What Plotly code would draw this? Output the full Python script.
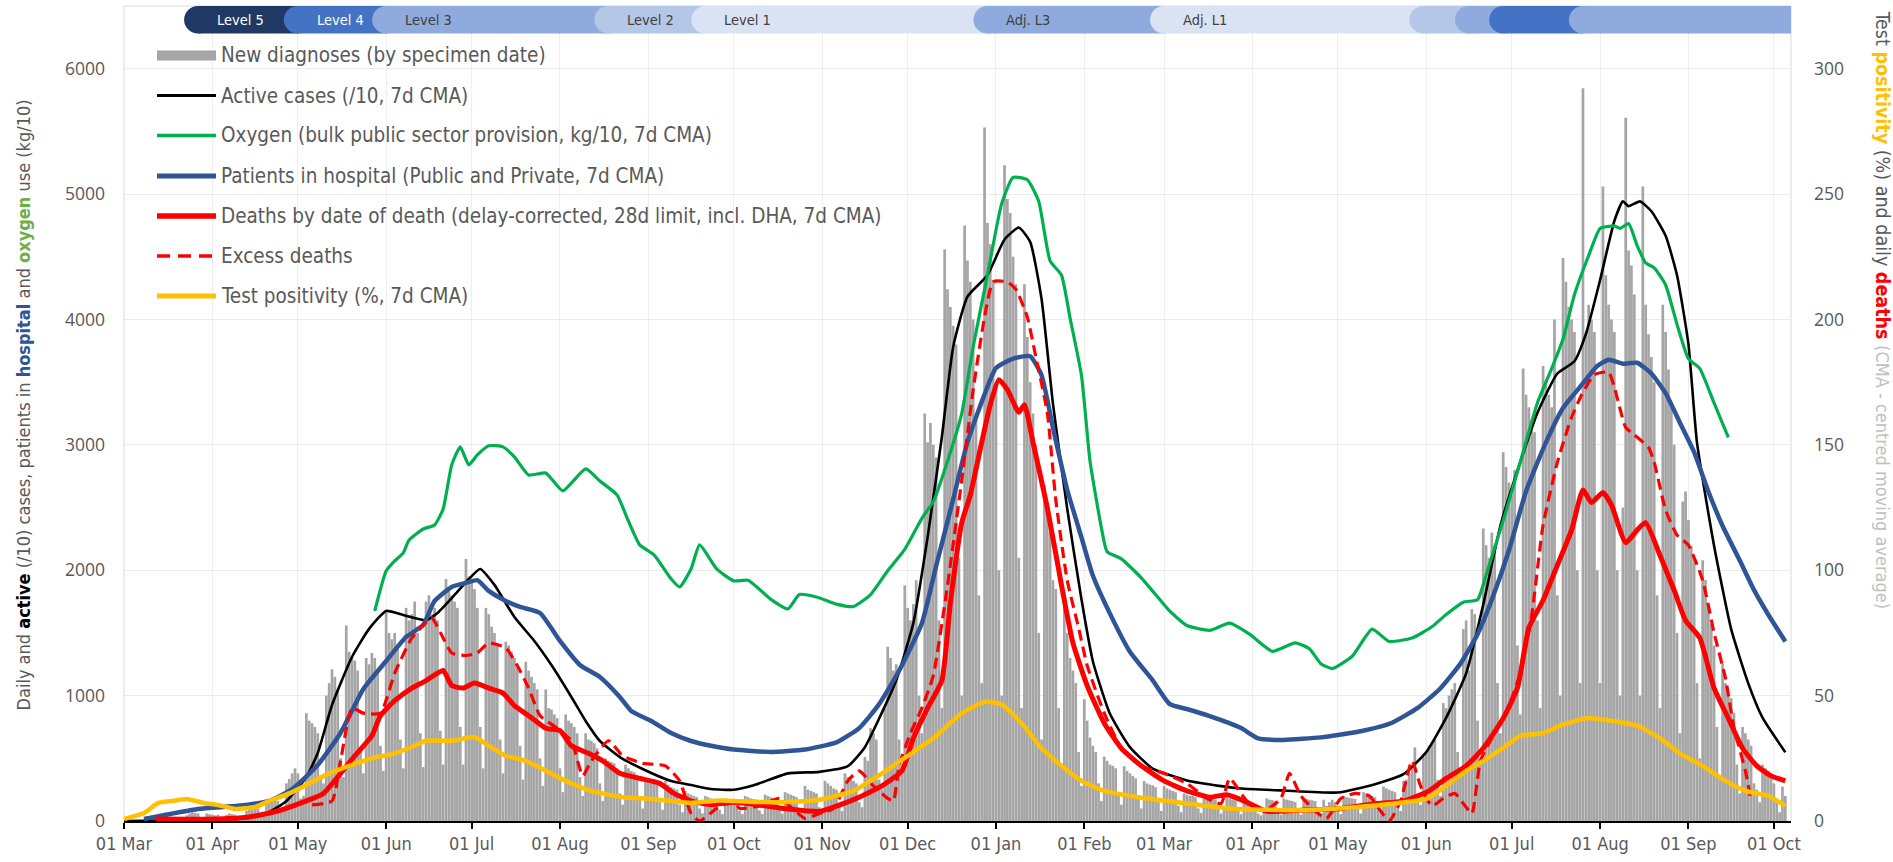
import pandas as pd
import plotly.graph_objects as go

BASE = pd.Timestamp("2020-03-01")

# ---------------- data ----------------
# New diagnoses by specimen date, one row per week (Sun..Sat), starting Sun 2020-03-01
new_diagnoses_weeks = [
    [0, 0, 0, 0, 0, 0, 0],
    [0, 0, 0, 1, 2, 3, 2],
    [4, 10, 15, 20, 25, 30, 15],
    [15, 45, 60, 70, 65, 60, 30],
    [25, 60, 55, 50, 45, 50, 25],
    [20, 50, 60, 55, 50, 40, 25],
    [30, 80, 90, 100, 110, 100, 50],
    [50, 140, 150, 170, 180, 160, 80],
    [80, 300, 335, 380, 420, 380, 180],
    [200, 860, 800, 780, 750, 700, 350],
    [300, 1000, 1100, 1210, 1150, 1050, 500],
    [350, 1560, 1350, 1300, 1280, 1200, 550],
    [380, 1300, 1250, 1340, 1300, 1200, 600],
    [400, 1660, 1500, 1450, 1500, 1400, 650],
    [420, 1700, 1600, 1650, 1750, 1500, 700],
    [430, 1750, 1800, 1650, 1700, 1600, 720],
    [450, 1930, 1850, 1800, 1750, 1700, 750],
    [450, 2090, 1950, 1900, 1850, 1700, 750],
    [420, 1700, 1650, 1550, 1500, 1400, 650],
    [380, 1430, 1400, 1350, 1300, 1250, 600],
    [330, 1270, 1200, 1150, 1100, 1050, 500],
    [280, 1050, 900, 890, 850, 820, 420],
    [230, 850, 800, 780, 750, 700, 350],
    [200, 700, 650, 640, 620, 580, 300],
    [160, 500, 480, 470, 460, 420, 220],
    [130, 450, 420, 400, 390, 370, 190],
    [100, 340, 320, 310, 300, 290, 150],
    [90, 320, 290, 270, 260, 250, 130],
    [70, 240, 220, 210, 200, 190, 100],
    [60, 200, 190, 180, 170, 165, 90],
    [55, 180, 170, 165, 160, 150, 80],
    [55, 200, 190, 180, 175, 170, 85],
    [55, 210, 200, 190, 180, 170, 90],
    [60, 230, 220, 210, 200, 190, 95],
    [60, 280, 250, 240, 230, 220, 110],
    [70, 320, 300, 280, 260, 250, 120],
    [80, 380, 350, 330, 320, 300, 150],
    [110, 510, 480, 740, 700, 650, 330],
    [250, 900, 1390, 1300, 1200, 1250, 650],
    [450, 1880, 1700, 1600, 1730, 1920, 1000],
    [700, 3250, 3020, 3175, 3000, 2900, 1600],
    [900, 4560, 4240, 4100, 3950, 3800, 2100],
    [1000, 4750, 4470, 4300, 4000, 3200, 1800],
    [1100, 5530, 4770, 4600, 4300, 3500, 2000],
    [1000, 5230, 4960, 4850, 4500, 4280, 2100],
    [900, 4280, 3860, 3500, 3250, 3000, 1500],
    [650, 2680, 2500, 2300, 1920, 1850, 900],
    [450, 1730, 1500, 1300, 1200, 1100, 550],
    [280, 970, 800, 665, 600, 550, 300],
    [160, 513, 480, 450, 440, 420, 220],
    [130, 437, 400, 380, 360, 340, 180],
    [100, 320, 300, 290, 285, 270, 150],
    [80, 280, 260, 250, 240, 230, 120],
    [70, 220, 210, 200, 200, 190, 100],
    [65, 200, 190, 180, 180, 170, 95],
    [60, 120, 190, 180, 170, 165, 90],
    [55, 180, 170, 160, 150, 90, 60],
    [45, 90, 180, 170, 165, 160, 85],
    [50, 180, 170, 165, 160, 150, 85],
    [50, 180, 175, 170, 165, 160, 90],
    [50, 170, 120, 150, 170, 150, 85],
    [55, 200, 190, 185, 180, 175, 95],
    [60, 230, 220, 210, 200, 190, 105],
    [70, 275, 260, 250, 240, 230, 125],
    [80, 320, 330, 380, 420, 588, 200],
    [130, 510, 540, 600, 620, 650, 330],
    [200, 940, 900, 1000, 1050, 1100, 550],
    [350, 1530, 1600, 1200, 1690, 1650, 800],
    [500, 2333, 2200, 2100, 2300, 2200, 1100],
    [700, 2940, 2824, 2700, 2600, 2800, 1400],
    [850, 3608, 3400, 3300, 3200, 3100, 1600],
    [900, 3628, 3510, 3400, 3300, 4000, 1800],
    [1000, 4490, 4300, 4100, 4000, 3900, 2000],
    [1100, 5844, 3883, 4118, 4000, 3900, 2000],
    [1100, 5060, 4353, 4118, 4000, 3900, 2000],
    [1000, 2500, 5608, 4550, 4430, 4200, 2000],
    [1000, 5060, 4118, 3883, 3700, 3500, 1800],
    [900, 4118, 3900, 3600, 3300, 3000, 1500],
    [700, 2549, 2628, 2400, 2196, 2100, 1100],
    [500, 2079, 1922, 1700, 1569, 1400, 750],
    [350, 1255, 1100, 1000, 980, 863, 450],
    [220, 750, 700, 650, 600, 300, 250],
    [150, 450, 420, 400, 353, 300, 160],
    [70, 275, 200],
]

# (day since 2020-03-01, value) pairs
active_cases = [
    (0, 0), (20, 5), (40, 16), (50, 60), (57, 160), (64, 351), (68, 542), (73, 925), (80, 1308),
    (86, 1532), (92, 1675), (98, 1643), (106, 1602), (110, 1659), (116, 1803), (121, 1930),
    (125, 2010), (130, 1883), (137, 1627), (144, 1436), (150, 1244), (157, 989), (162, 798),
    (167, 638), (174, 510), (182, 415), (192, 319), (199, 287), (206, 255), (214, 249),
    (221, 285), (233, 380), (244, 392), (254, 437), (260, 589), (265, 817), (271, 1122),
    (277, 1578), (282, 2262), (287, 3061), (291, 3783), (296, 4182), (303, 4353), (309, 4638),
    (314, 4733), (318, 4619), (322, 4163), (326, 3327), (331, 2490), (336, 1768), (340, 1274),
    (346, 855), (353, 589), (361, 418), (373, 323), (385, 278), (392, 259), (407, 243),
    (426, 227), (439, 294), (449, 373), (457, 549), (464, 824), (471, 1177), (477, 1726),
    (483, 2353), (490, 2863), (496, 3255), (503, 3569), (509, 3667), (513, 3883), (518, 4314),
    (523, 4785), (526, 4942), (528, 4903), (532, 4942), (536, 4863), (541, 4667), (545, 4353),
    (549, 3804), (552, 3020), (558, 2196), (564, 1530), (570, 1098), (575, 824), (583, 549),
]

oxygen = [
    (88, 1675), (92, 1994), (95, 2074), (98, 2138), (100, 2240), (105, 2329), (109, 2361),
    (112, 2489), (115, 2840), (118, 2984), (121, 2840), (124, 2920), (128, 2993), (133, 2984),
    (137, 2904), (142, 2760), (148, 2776), (154, 2633), (162, 2808), (167, 2712), (173, 2601),
    (177, 2393), (181, 2202), (186, 2122), (192, 1931), (195, 1867), (199, 2010), (202, 2202),
    (208, 2010), (214, 1915), (219, 1920), (227, 1768), (233, 1692), (237, 1806), (243, 1787),
    (250, 1730), (256, 1711), (262, 1806), (268, 1996), (274, 2167), (280, 2414), (284, 2547),
    (289, 2870), (294, 3251), (298, 3783), (303, 4353), (308, 4924), (312, 5133), (317, 5114),
    (321, 4943), (325, 4467), (329, 4353), (332, 4011), (336, 3555), (339, 2870), (343, 2338),
    (345, 2148), (350, 2091), (357, 1939), (362, 1806), (367, 1673), (373, 1559), (381, 1521),
    (388, 1578), (395, 1490), (403, 1353), (411, 1420), (416, 1373), (420, 1255), (424, 1216),
    (431, 1314), (438, 1530), (444, 1432), (452, 1459), (459, 1549), (464, 1647), (470, 1745),
    (475, 1765), (478, 1961), (485, 2471), (490, 2863), (496, 3334), (501, 3608), (505, 3844),
    (509, 4197), (514, 4510), (518, 4726), (523, 4746), (525, 4726), (528, 4765), (531, 4589),
    (534, 4451), (537, 4412), (541, 4275), (545, 3961), (549, 3687), (553, 3608), (558, 3334),
    (563, 3059),
]

hospital = [
    (7, 16), (26, 96), (40, 121), (51, 160), (59, 255), (68, 447), (76, 702), (84, 1053),
    (92, 1276), (99, 1468), (105, 1564), (109, 1755), (115, 1867), (120, 1899), (124, 1921),
    (128, 1835), (134, 1755), (139, 1707), (146, 1659), (153, 1436), (160, 1244), (167, 1149),
    (174, 989), (178, 878), (185, 798), (192, 702), (199, 638), (206, 600), (214, 570),
    (227, 551), (239, 570), (250, 627), (258, 741), (265, 932), (272, 1198), (280, 1578),
    (285, 2034), (291, 2566), (296, 3023), (302, 3403), (306, 3612), (312, 3688), (318, 3707),
    (322, 3555), (326, 3137), (331, 2642), (336, 2262), (340, 1958), (346, 1654), (353, 1350),
    (361, 1122), (367, 932), (373, 893), (381, 836), (392, 741), (398, 659), (407, 647),
    (420, 667), (426, 686), (436, 726), (445, 784), (454, 902), (462, 1059), (469, 1255),
    (475, 1490), (480, 1765), (486, 2157), (492, 2628), (499, 3020), (505, 3294), (512, 3490),
    (517, 3628), (521, 3679), (526, 3647), (531, 3655), (536, 3569), (541, 3412), (546, 3177),
    (551, 2941), (556, 2628), (561, 2353), (567, 2079), (572, 1843), (577, 1647), (583, 1432),
]

# deaths per day (right axis)
deaths = [
    (11, 0.8), (33, 0.8), (44, 1.6), (54, 4), (64, 8), (70, 11), (76, 19), (81, 26), (87, 34),
    (90, 42), (95, 48), (101, 53), (106, 56), (112, 60), (115, 54), (119, 53), (123, 55),
    (128, 53), (133, 51), (137, 46), (142, 42), (148, 37), (153, 36), (157, 30), (163, 27),
    (168, 24), (174, 19), (181, 17), (188, 15), (193, 11), (199, 8), (206, 6.5), (214, 7.5),
    (221, 6.7), (233, 4.8), (244, 3.8), (256, 8.5), (266, 14), (273, 20), (277, 33), (282, 45),
    (287, 56), (290, 87), (294, 119), (297, 130), (301, 151), (304, 166), (307, 176), (310, 172),
    (314, 163), (316, 166), (319, 151), (324, 125), (329, 94), (333, 71), (338, 54), (344, 39),
    (350, 29), (357, 22), (365, 16), (373, 12), (381, 9.5), (387, 10.5), (392, 8.5), (401, 3.9),
    (413, 4.3), (426, 4.9), (439, 6.9), (449, 7.9), (458, 12), (464, 17), (471, 22), (477, 29),
    (484, 41), (489, 53), (493, 77), (498, 88), (503, 102), (508, 116), (512, 132), (515, 127),
    (519, 131), (522, 126), (527, 111), (531, 116), (534, 119), (539, 106), (544, 92), (548, 80),
    (553, 73), (558, 53), (563, 41), (568, 29), (573, 22), (578, 18), (583, 16),
]

excess_deaths = [
    (66, 6.4), (73, 8), (76, 24), (80, 45), (84, 43), (90, 43), (95, 59), (101, 73), (105, 78),
    (108, 81), (112, 73), (115, 67), (120, 66), (124, 67), (128, 71), (134, 69), (138, 62),
    (142, 53), (146, 42), (152, 37), (157, 32), (161, 18), (164, 24), (170, 32), (175, 26),
    (182, 23), (190, 22), (195, 16), (199, 3), (202, 0), (208, 5), (214, 8), (216, 5), (223, 6),
    (230, 9), (239, 1), (244, 3), (249, 5), (254, 16), (258, 20), (263, 14), (268, 9), (270, 8),
    (272, 22), (276, 35), (280, 45), (284, 58), (289, 94), (294, 136), (298, 172), (302, 201),
    (305, 215), (310, 215), (313, 212), (317, 201), (320, 185), (324, 163), (327, 128),
    (331, 96), (335, 77), (338, 62), (344, 43), (350, 29), (357, 22), (365, 19), (373, 15),
    (380, 9), (385, 7), (388, 17), (394, 8), (400, 4), (406, 9), (409, 19), (413, 10), (418, 4),
    (422, 1), (427, 9), (432, 11), (437, 10), (441, 4), (444, 0), (448, 8), (452, 24), (455, 14),
    (459, 6), (463, 9), (467, 11), (470, 7), (473, 3), (476, 24), (480, 33), (485, 43),
    (490, 59), (494, 82), (498, 118), (503, 143), (508, 161), (512, 171), (516, 178), (521, 179),
    (523, 173), (527, 157), (530, 154), (535, 149), (537, 143), (541, 124), (545, 114),
    (549, 110), (554, 96), (558, 75), (562, 57), (565, 37), (569, 20), (571, 8),
]

# test positivity, % (right axis)
positivity = [
    (0, 0.8), (7, 3.2), (12, 7.2), (17, 8), (22, 8.8), (28, 7.2), (33, 6.4), (39, 4.8),
    (46, 5.6), (51, 8), (58, 11), (65, 15), (72, 19), (79, 22), (87, 25), (95, 27), (102, 30),
    (106, 32), (115, 32), (123, 33.5), (128, 30), (134, 26), (141, 24), (148, 20), (155, 16),
    (164, 12), (175, 9.5), (185, 8.8), (199, 7.2), (209, 8.2), (221, 7.6), (233, 7.6),
    (244, 8.5), (256, 12), (266, 19), (275, 26), (284, 33), (294, 43), (302, 47.5), (308, 46.5),
    (315, 39), (322, 29), (329, 22), (336, 16), (344, 12), (356, 9.5), (373, 7), (388, 5),
    (413, 4.3), (432, 5.5), (445, 6.9), (457, 8.8), (464, 14), (471, 20), (477, 24), (485, 30),
    (490, 34), (498, 35), (504, 38), (513, 41), (522, 40), (531, 38), (539, 33), (546, 27),
    (554, 22), (562, 16), (569, 12), (577, 10), (583, 6),
]

# lockdown level bands
level_starts = ["2020-03-27", "2020-05-01", "2020-06-01", "2020-08-18", "2020-09-21",
                "2020-12-29", "2021-03-01", "2021-05-31", "2021-06-16", "2021-06-28",
                "2021-07-26"]
level_numbers = [5, 4, 3, 2, 1, 3, 1, 2, 3, 4, 3]
level_labels = ["Level 5", "Level 4", "Level 3", "Level 2", "Level 1", "Adj. L3", "Adj. L1",
                "", "", "", ""]
level_colors = {5: "#203864", 4: "#4472C4", 3: "#8FAADC", 2: "#B4C7E7", 1: "#DAE3F3"}

month_ticks = pd.date_range("2020-03-01", "2021-10-01", freq="MS")
X_END = "2021-10-07"

# ---------------- helpers ----------------
def to_dates(pairs):
    days = [p[0] for p in pairs]
    vals = [p[1] for p in pairs]
    return BASE + pd.to_timedelta(days, unit="D"), vals


NARROW = "Liberation Sans Narrow, Arial Narrow, DejaVu Sans Condensed, sans-serif"
GREY_TXT = "#595959"
W, H = 1893, 862
ML, MR, MT, MB = 124, 102, 6, 41
PW, PH = W - ML - MR, H - MT - MB


def px_x(px):
    return (px - ML) / PW


def px_y(py):
    return (H - MB - py) / PH


fig = go.Figure()

bar_vals = [v for wk in new_diagnoses_weeks for v in wk]
bar_dates = BASE + pd.to_timedelta(list(range(len(bar_vals))), unit="D")
BAR_NAME = "New diagnoses (by specimen date)"
BAR_COLOR = "#A5A5A5"
fig.add_trace(go.Bar(x=bar_dates, y=bar_vals, name=BAR_NAME,
                     marker=dict(color=BAR_COLOR, line=dict(width=0))))

series = [
    (active_cases, "Active cases (/10, 7d CMA)", "#000000", 2.6, "solid", "y"),
    (oxygen, "Oxygen (bulk public sector provision, kg/10, 7d CMA)", "#00B050", 3.2, "solid", "y"),
    (hospital, "Patients in hospital (Public and Private, 7d CMA)", "#2F5597", 4.5, "solid", "y"),
    (deaths, "Deaths by date of death (delay-corrected, 28d limit, incl. DHA, 7d CMA)", "#FF0000", 5, "solid", "y2"),
    (excess_deaths, "Excess deaths", "#FF0000", 3.2, "11px,6px", "y2"),
    (positivity, "Test positivity (%, 7d CMA)", "#FFC000", 4.5, "solid", "y2"),
]
for pairs, name, color, width, dash, yax in series:
    xd, yv = to_dates(pairs)
    fig.add_trace(go.Scatter(x=xd, y=yv, name=name, mode="lines", yaxis=yax,
                             line=dict(color=color, width=width, dash=dash, shape="spline",
                                       smoothing=0.5)))

shapes = []
annotations = []

# ---------------- level band ----------------
band_y0, band_y1 = 6280, 6500
for i, start in enumerate(level_starts):
    end = level_starts[i + 1] if i + 1 < len(level_starts) else X_END
    col = level_colors[level_numbers[i]]
    shapes.append(dict(type="rect", xref="x", yref="y", x0=start, x1=end, y0=band_y0, y1=band_y1,
                       fillcolor=col, line=dict(width=0), layer="above"))
    shapes.append(dict(type="circle", xref="x", yref="y", xsizemode="pixel", xanchor=start,
                       x0=-14, x1=14, y0=band_y0, y1=band_y1, fillcolor=col,
                       line=dict(width=0), layer="above"))
    if level_labels[i]:
        annotations.append(dict(x=start, y=(band_y0 + band_y1) / 2, xref="x", yref="y",
                                text=level_labels[i], showarrow=False, xanchor="left",
                                yanchor="middle", xshift=17,
                                font=dict(family=NARROW, size=14.5,
                                          color="#FFFFFF" if level_numbers[i] >= 4 else "#404040")))

# plot frame
shapes.append(dict(type="rect", xref="paper", yref="paper", x0=0, x1=1, y0=0, y1=1,
                   line=dict(color="#D9D9D9", width=1), layer="below"))

# ---------------- legend (drawn by hand for Excel-like long keys) ----------------
shapes.append(dict(type="rect", xref="paper", yref="paper", x0=px_x(150), x1=px_x(895),
                   y0=px_y(321), y1=px_y(38), fillcolor="white", line=dict(width=0),
                   layer="between"))
legend_rows_y = [55.5, 95.5, 135.5, 176, 216, 256, 296]
KEY_X0, KEY_X1, TEXT_X = 157, 216, 219
shapes.append(dict(type="rect", xref="paper", yref="paper", x0=px_x(KEY_X0), x1=px_x(KEY_X1),
                   y0=px_y(legend_rows_y[0] + 5), y1=px_y(legend_rows_y[0] - 5),
                   fillcolor=BAR_COLOR, line=dict(width=0), layer="above"))
legend_entries = [(BAR_NAME, legend_rows_y[0])]
for (pairs, name, color, width, dash, yax), ry in zip(series, legend_rows_y[1:]):
    shapes.append(dict(type="line", xref="paper", yref="paper", x0=px_x(KEY_X0), x1=px_x(KEY_X1),
                       y0=px_y(ry), y1=px_y(ry),
                       line=dict(color=color, width=width + 0.5,
                                 dash="13px,8px" if dash != "solid" else "solid"),
                       layer="above"))
    legend_entries.append((name, ry))
for name, ry in legend_entries:
    annotations.append(dict(xref="paper", yref="paper", x=px_x(TEXT_X), y=px_y(ry),
                            xanchor="left", yanchor="middle", text=name, showarrow=False,
                            font=dict(family=NARROW, size=20.5, color=GREY_TXT)))

# axis titles
annotations.append(dict(
    xref="paper", yref="paper", x=-0.068, y=0.51, textangle=-90, showarrow=False,
    text=("Daily and <b><span style='color:#000000'>active</span></b> (/10) cases, patients in "
          "<b><span style='color:#2F5597'>hospital</span></b> and "
          "<b><span style='color:#70AD47'>oxygen</span></b> use (kg/10)"),
    font=dict(family=NARROW, size=18, color=GREY_TXT)))
annotations.append(dict(
    xref="paper", yref="paper", x=1.063, y=0.628, textangle=90, showarrow=False,
    text=("Test <b><span style='color:#FFC000'>positivity</span></b> (%) and daily "
          "<b><span style='color:#FF0000'>deaths</span></b> "
          "<span style='color:#BFBFBF;font-size:18px'>(CMA - centred moving average)</span>"),
    font=dict(family=NARROW, size=19.5, color=GREY_TXT)))

fig.update_layout(
    width=W, height=H, autosize=False,
    margin=dict(l=ML, r=MR, t=MT, b=MB, pad=0),
    paper_bgcolor="white", plot_bgcolor="white",
    bargap=0.05,
    showlegend=False,
    xaxis=dict(type="date", range=["2020-03-01", X_END], tickvals=month_ticks,
               tickformat="%d %b", ticks="outside", ticklen=6, tickcolor="#000000",
               tickwidth=1.5, showline=True, linecolor="#000000", linewidth=1.5,
               showgrid=True, gridcolor="#EEEEEE", gridwidth=1,
               tickfont=dict(family=NARROW, size=18, color=GREY_TXT)),
    yaxis=dict(range=[0, 6500], tickvals=[0, 1000, 2000, 3000, 4000, 5000, 6000],
               showgrid=True, gridcolor="#EBEBEB", zeroline=False, showline=False,
               ticklabelstandoff=18,
               tickfont=dict(family="Open Sans, DejaVu Sans, sans-serif", size=17.5, color=GREY_TXT)),
    yaxis2=dict(range=[0, 325], tickvals=[0, 50, 100, 150, 200, 250, 300], overlaying="y",
                side="right", showgrid=False, zeroline=False, showline=False,
                ticklabelstandoff=22,
                tickfont=dict(family="Open Sans, DejaVu Sans, sans-serif", size=17.5, color=GREY_TXT)),
    shapes=shapes,
    annotations=annotations,
)

fig.write_html("out.html", config={"displayModeBar": False},
               post_script="document.body.style.margin='0';")
